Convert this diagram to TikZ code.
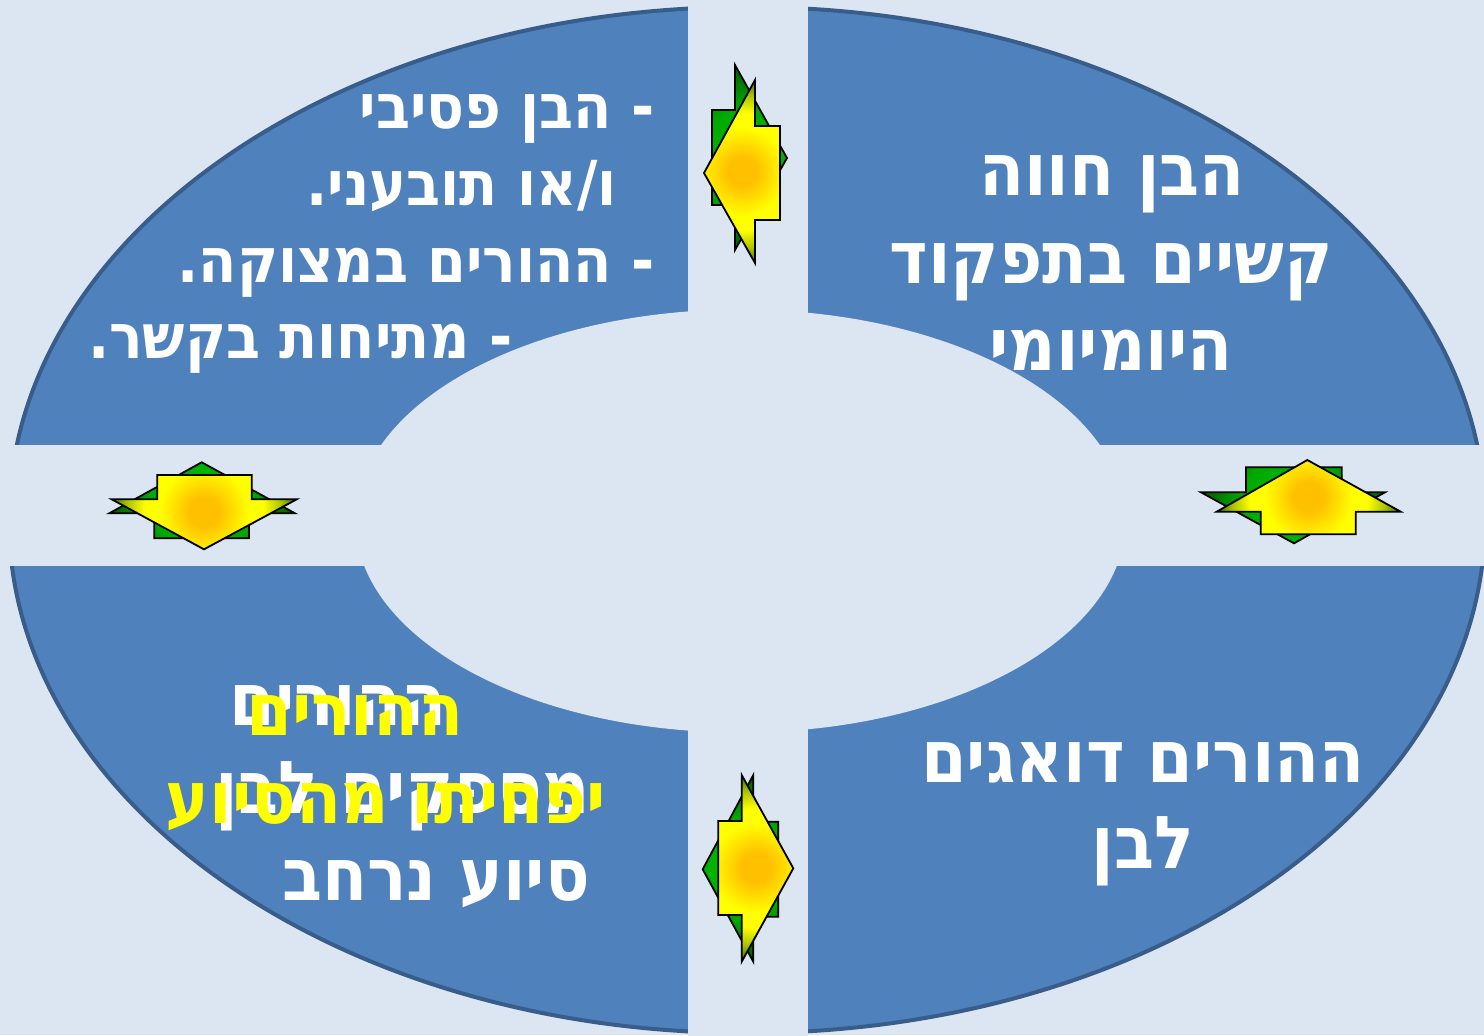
\documentclass[tikz,border=0pt]{standalone}
\usepackage{fontspec}
\IfFontExistsTF{DejaVu Sans Condensed}{%
  \newfontfamily\heb[Script=Hebrew]{DejaVu Sans Condensed}}{%
  \newfontfamily\heb[Script=Hebrew,FakeStretch=0.9]{DejaVu Sans}}
\TeXXeTstate=1
\definecolor{bgc}{HTML}{DCE6F2}
\definecolor{ringc}{HTML}{4F81BD}
\definecolor{ringb}{HTML}{385D8A}
\definecolor{orng}{HTML}{FFC000}
\definecolor{yel}{HTML}{FFFF00}
\definecolor{oliv}{HTML}{A8C000}
\definecolor{dgrn}{HTML}{3F6E00}
\definecolor{grn}{HTML}{00C000}
\definecolor{grn2}{HTML}{00A800}
\definecolor{grn3}{HTML}{005C00}
\pgfdeclareradialshading{yglow}{\pgfpoint{0bp}{0bp}}{color(0bp)=(orng); color(4bp)=(orng); color(12bp)=(yel); color(16bp)=(yel); color(21bp)=(oliv); color(25bp)=(dgrn); color(50bp)=(dgrn)}
\pgfdeclareradialshading{gglow}{\pgfpoint{0bp}{0bp}}{color(0bp)=(grn); color(14bp)=(grn2); color(25bp)=(grn3); color(50bp)=(grn3)}
\tikzset{
  txt/.style={inner sep=0pt, text=white, font=\heb\bfseries\fontsize{36.5}{44}\selectfont},
  txtsmall/.style={txt, font=\heb\bfseries\fontsize{31}{38}\selectfont},
  ytxt/.style={txt, text=yel},
  arrline/.style={draw=black, line width=0.9pt, line join=miter},
}
% #1 shading, #2 center, #3 radius, #4 path
\newcommand\glowshape[4]{%
  \begin{scope}
    \clip #4;
    \shade[shading=#1] #2 circle (#3);
  \end{scope}
  \draw[arrline] #4;
}
\begin{document}
\begin{tikzpicture}[x=0.5pt,y=-0.5pt]
\useasboundingbox (0,0) rectangle (1484,1035);
\fill[bgc] (0,0) rectangle (1484,1035);
% ring
\filldraw[fill=ringc, draw=ringb, line width=2pt] (747,520) ellipse [x radius=738, y radius=513];
\fill[bgc] (740.5,521) ellipse [x radius=385, y radius=211.5];
\fill[bgc] (688,-10) rectangle (808,1045);
\fill[bgc] (-10,445) rectangle (1494,566);
% arrows top
\glowshape{gglow}{(749.5,157.5)}{92}{(735,65) -- (735,110) -- (712,110) -- (712,205) -- (735,205) -- (735,250) -- (787,158) -- cycle}
\glowshape{yglow}{(742,171.5)}{92}{(704,173) -- (755,80) -- (755,126) -- (780,126) -- (780,220) -- (755,220) -- (755,263) -- cycle}
% arrows left
\glowshape{gglow}{(202,500)}{93}{(201.7,462.3) -- (295,513.3) -- (249,513.3) -- (249,538.3) -- (154.3,538.3) -- (154.3,513.3) -- (109.3,513.3) -- cycle}
\glowshape{yglow}{(204,512)}{93}{(204,549.3) -- (111.7,499.3) -- (157.3,499.3) -- (157.3,475) -- (251.7,475) -- (251.7,499.3) -- (296.7,499.3) -- cycle}
% arrows right
\glowshape{gglow}{(1293,505)}{92}{(1294,543.3) -- (1201,492.3) -- (1246,492.3) -- (1246,467.3) -- (1341.7,467.3) -- (1341.7,492.3) -- (1385,492.3) -- cycle}
\glowshape{yglow}{(1308.7,497)}{92}{(1307.3,460) -- (1400.7,511.7) -- (1355.7,511.7) -- (1355.7,534.3) -- (1260.7,534.3) -- (1260.7,511.7) -- (1216.7,511.7) -- cycle}
% arrows bottom
\glowshape{gglow}{(740.5,868)}{93}{(702.7,869.3) -- (753.3,775) -- (753.3,821.7) -- (778.3,821.7) -- (778.3,916.7) -- (753.3,916.7) -- (753.3,961.7) -- cycle}
\glowshape{yglow}{(756,868)}{93}{(793.3,868.3) -- (741.7,961.7) -- (741.7,915) -- (718.3,915) -- (718.3,821) -- (741.7,821) -- (741.7,775) -- cycle}
% top-right text
\node[txt, anchor=base] (tr1) at (1112,195) {\beginR הבן חווה\endR};
\node[txt, anchor=base] (tr2) at (1111,283) {\beginR קשיים בתפקוד\endR};
\node[txt, anchor=base] (tr3) at (1111,370) {\beginR היומיומי\endR};
% top-left text
\node[txtsmall, anchor=base east] (tl1) at (655,128) {\beginR - הבן פסיבי\endR};
\node[txtsmall, anchor=base east] (tl2) at (617,205) {\beginR ו/או תובעני\kern0pt.\endR};
\node[txtsmall, anchor=base east] (tl3) at (655,282) {\beginR - ההורים במצוקה\kern0pt.\endR};
\node[txtsmall, anchor=base east] (tl4) at (513,358) {\beginR - מתיחות בקשר\kern0pt.\endR};
% bottom-right text
\node[txt, anchor=base] (br1) at (1143,782) {\beginR ההורים דואגים\endR};
\node[txt, anchor=base] (br2) at (1143,868) {\beginR לבן\endR};
% bottom-left text
\node[txt, anchor=base] (bl1) at (338,725) {\beginR ההורים\endR};
\node[txt, anchor=base east] (bl2) at (590,813) {\beginR מספקים לבן\endR};
\node[txt, anchor=base east] (bl3) at (590,900) {\beginR סיוע נרחב\endR};
\node[ytxt, anchor=base] (yl1) at (355,735) {\beginR ההורים\endR};
\node[ytxt, anchor=base] (yl2) at (386,823) {\beginR יפחיתו מהסיוע\endR};
\end{tikzpicture}
\end{document}
